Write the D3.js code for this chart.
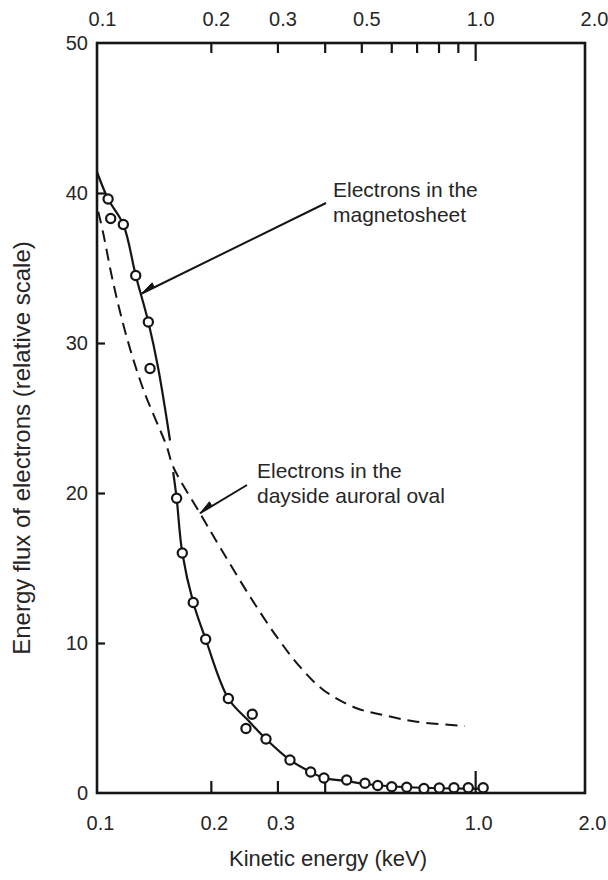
<!DOCTYPE html>
<html><head><meta charset="utf-8">
<script src="https://cdn.jsdelivr.net/npm/d3@7"></script>
<style>
body{margin:0;background:#fff}
svg{display:block}
text{font-family:"Liberation Sans",Arial,Helvetica,sans-serif;fill:#262626}
</style>
</head><body>
<svg id="chart" width="608" height="880"></svg>
<script>
// ---------- data ----------
const topTickLabels = [0.1, 0.2, 0.3, 0.5, 1.0, 2.0];
const bottomTickLabels = [0.1, 0.2, 0.3, 1.0, 2.0];
const topShortTicks = [0.2, 0.3, 0.4, 0.5, 0.6, 0.7, 0.8, 0.9];
const topLongTicks = [1.0];
const bottomShortTicks = [0.2, 0.3, 0.4];
const bottomLongTicks = [1.0];
const yTickLabels = [0, 10, 20, 30, 40, 50];
const yInnerTicks = [10, 20, 30, 40];

// magnetosheet electrons: measured points (circles)
const sheetPointsE = [0.107, 0.1087, 0.1174, 0.1266, 0.1367, 0.1381, 0.1624, 0.1681, 0.1797, 0.1938, 0.2225, 0.2574, 0.2477, 0.2798, 0.3238, 0.3673, 0.3983, 0.4573, 0.5112, 0.5524, 0.6016, 0.6591, 0.7321, 0.8038, 0.879, 0.959, 1.05];
const sheetPointsF = [39.6, 38.3, 37.9, 34.5, 31.4, 28.3, 19.65, 16.0, 12.7, 10.25, 6.3, 5.25, 4.3, 3.6, 2.2, 1.4, 1.0, 0.87, 0.65, 0.5, 0.42, 0.38, 0.3, 0.33, 0.35, 0.35, 0.35];

// magnetosheet fitted curve (two segments)
const sheetUpperE = [0.100, 0.107, 0.1174, 0.1266, 0.1367, 0.1452, 0.156];
const sheetUpperF = [41.4, 39.6, 37.9, 34.5, 31.4, 28.3, 23.5];
const sheetLowerE = [0.159, 0.1624, 0.1681, 0.1797, 0.1938, 0.2225, 0.252, 0.2798, 0.3238, 0.3673, 0.3983, 0.4573, 0.5112, 0.6016, 0.7321, 0.879, 1.07];
const sheetLowerF = [21.4, 19.65, 16.0, 12.7, 10.25, 6.3, 4.8, 3.6, 2.2, 1.4, 1.0, 0.8, 0.6, 0.45, 0.35, 0.3, 0.28];

// dayside auroral oval electrons (dashed)
const ovalE = [0.1008, 0.1039, 0.1104, 0.1198, 0.1326, 0.1529, 0.159, 0.1872, 0.2136, 0.2538, 0.2986, 0.344, 0.3968, 0.486, 0.5715, 0.7002, 0.94];
const ovalF = [38.75, 37.3, 34.0, 30.4, 26.9, 23.1, 21.75, 18.65, 16.2, 13.1, 10.42, 8.42, 6.87, 5.65, 5.2, 4.75, 4.47];

// annotations
const sheetLabel = ["Electrons in the", "magnetosheet"];
const ovalLabel = ["Electrons in the", "dayside auroral oval"];
const sheetArrowTip = {e: 0.1313, f: 33.3};
const ovalArrowTip = {e: 0.1872, f: 18.65};

// ---------- layout ----------
const plotL = 97, plotR = 585, plotT = 43, plotB = 793;
const svg = d3.select("#chart");

const x = d3.scaleLog().domain([0.1, 2.0]).range([plotL, 589]);
const y = d3.scaleLinear().domain([0, 50]).range([plotB, plotT]);
const fmt = d3.format(".1f");
const ink = "#151515";

// frame
svg.append("rect").attr("x", plotL).attr("y", plotT)
  .attr("width", plotR - plotL).attr("height", plotB - plotT)
  .attr("fill", "none").attr("stroke", ink).attr("stroke-width", 2.6);

function styleAxis(g) {
  g.select(".domain").remove();
  g.selectAll(".tick line").attr("stroke", ink).attr("stroke-width", 2.2);
  g.selectAll(".tick text").attr("fill", "#262626").style("font-size", "20px")
    .style("font-family", '"Liberation Sans",Arial,sans-serif');
}

// inward ticks
svg.append("g").attr("transform", `translate(0,${plotT})`)
  .call(d3.axisBottom(x).tickValues(topShortTicks).tickSize(10).tickFormat(""))
  .call(styleAxis);
svg.append("g").attr("transform", `translate(0,${plotT})`)
  .call(d3.axisBottom(x).tickValues(topLongTicks).tickSize(18).tickFormat(""))
  .call(styleAxis);
svg.append("g").attr("transform", `translate(0,${plotB})`)
  .call(d3.axisTop(x).tickValues(bottomShortTicks).tickSize(12).tickFormat(""))
  .call(styleAxis);
svg.append("g").attr("transform", `translate(0,${plotB})`)
  .call(d3.axisTop(x).tickValues(bottomLongTicks).tickSize(22).tickFormat(""))
  .call(styleAxis);
svg.append("g").attr("transform", `translate(${plotL},0)`)
  .call(d3.axisRight(y).tickValues(yInnerTicks).tickSize(8).tickFormat(""))
  .call(styleAxis);

// tick labels
svg.append("g").attr("transform", `translate(5,${plotT - 14})`)
  .call(d3.axisTop(x).tickValues(topTickLabels).tickSize(0).tickFormat(fmt))
  .call(styleAxis);
svg.append("g").attr("transform", `translate(3,${plotB + 20})`)
  .call(d3.axisBottom(x).tickValues(bottomTickLabels).tickSize(0).tickFormat(fmt))
  .call(styleAxis);
svg.append("g").attr("transform", `translate(${plotL - 6},0)`)
  .call(d3.axisLeft(y).tickValues(yTickLabels).tickSize(0).tickFormat(d3.format("d")))
  .call(styleAxis);

// axis titles
svg.append("text").attr("x", 328).attr("y", 866).attr("text-anchor", "middle")
  .style("font-size", "22px").text("Kinetic energy (keV)");
svg.append("text").attr("transform", `translate(30,${448}) rotate(-90)`)
  .attr("text-anchor", "middle").style("font-size", "24px")
  .text("Energy flux of electrons (relative scale)");

// curves
const line = d3.line().x(d => x(d[0])).y(d => y(d[1])).curve(d3.curveCatmullRom.alpha(0.5));
const zip = (a, b) => a.map((v, i) => [v, b[i]]);

svg.append("path").datum(zip(ovalE, ovalF)).attr("d", line)
  .attr("fill", "none").attr("stroke", ink).attr("stroke-width", 2)
  .attr("stroke-dasharray", "12,7");
svg.append("path").datum(zip(sheetUpperE, sheetUpperF)).attr("d", line)
  .attr("fill", "none").attr("stroke", ink).attr("stroke-width", 2.2);
svg.append("path").datum(zip(sheetLowerE, sheetLowerF)).attr("d", line)
  .attr("fill", "none").attr("stroke", ink).attr("stroke-width", 2.2);

svg.append("g").selectAll("circle").data(zip(sheetPointsE, sheetPointsF)).join("circle")
  .attr("cx", d => x(d[0])).attr("cy", d => y(d[1])).attr("r", 4.6)
  .attr("fill", "#fff").attr("stroke", ink).attr("stroke-width", 2.2);

// annotations
function annot(lines, tx, ty, tip, from) {
  const t = svg.append("text").attr("x", tx).attr("y", ty).style("font-size", "21px");
  lines.forEach((s, i) => t.append("tspan").attr("x", tx).attr("dy", i ? 24.5 : 0).text(s));
  const px = x(tip.e), py = y(tip.f);
  svg.append("line").attr("x1", from[0]).attr("y1", from[1]).attr("x2", px).attr("y2", py)
    .attr("stroke", ink).attr("stroke-width", 2);
  const ang = Math.atan2(from[1] - py, from[0] - px);
  const L = 14, wdt = 5;
  const bx = px + L * Math.cos(ang), by = py + L * Math.sin(ang);
  const nx = -Math.sin(ang), ny = Math.cos(ang);
  svg.append("path")
    .attr("d", `M${px},${py}L${bx - nx * wdt},${by - ny * wdt}L${bx},${by}Z`)
    .attr("fill", ink).attr("stroke", ink).attr("stroke-width", 1);
}
annot(sheetLabel, 333, 197, sheetArrowTip, [326, 203]);
annot(ovalLabel, 257, 478, ovalArrowTip, [247, 485]);
</script>
</body></html>
